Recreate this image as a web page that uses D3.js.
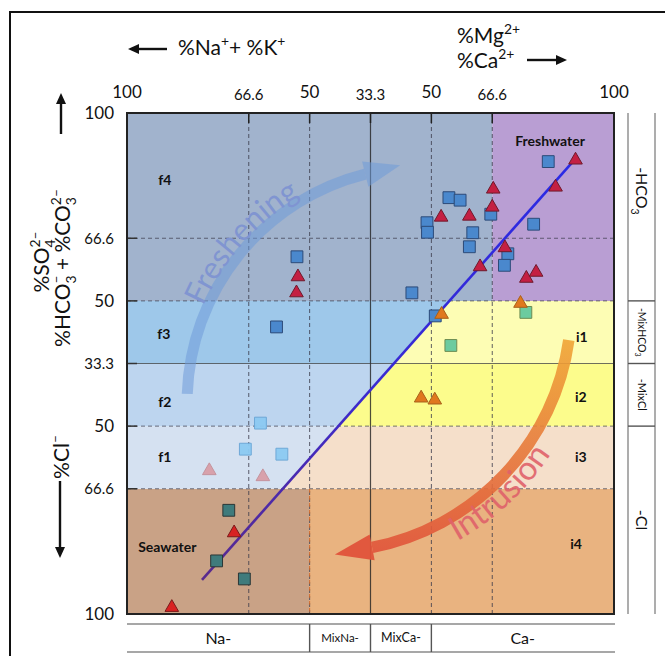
<!DOCTYPE html>
<html>
<head>
<meta charset="utf-8">
<script src="https://cdn.jsdelivr.net/npm/d3@7"></script>
<style>
  body { margin: 0; background: #fff; }
  svg { display: block; }
  text { font-family: Lato, "Open Sans", sans-serif; fill: #111; }
</style>
</head>
<body>
<svg width="665" height="656"></svg>
<script>
// positions on the diagram run 0..100 along each side; labels are what is printed
const xTickPos = [0, 25, 37.5, 50, 62.5, 75, 100];
const xTickLabels = ['100', '66.6', '50', '33.3', '50', '66.6', '100'];
const yTickPos = [0, 25, 37.5, 50, 62.5, 75, 100];
const yTickLabels = ['100', '66.6', '50', '33.3', '50', '66.6', '100'];

// facies strips
const cationFacies = ['Na-', 'MixNa-', 'MixCa-', 'Ca-'];
const cationBounds = [0, 37.5, 50, 62.5, 100];
const anionFacies = ['-Cl', '-MixCl', '-MixHCO3', '-HCO3'];
const anionBounds = [0, 37.5, 50, 62.5, 100];

// horizontal bands (bottom to top)
const bandEdges = [0, 25, 37.5, 50, 62.5, 100];

// seawater - freshwater mixing line
const mixLine = [[15.4, 6.8], [92.2, 91.0]];

// samples
const blueSquares = [
  [86.5, 90.3], [66.1, 83.1], [68.4, 82.6], [61.6, 78.1], [61.7, 76.2],
  [74.7, 79.8], [71.0, 76.1], [70.3, 73.3], [83.5, 77.8], [78.2, 71.9],
  [77.5, 69.6], [58.5, 64.1], [63.3, 59.5], [34.9, 71.3], [30.7, 57.3]
];
const paleSquares = [[27.4, 38.1], [24.3, 32.9], [31.8, 31.9]];
const greenSquares = [[81.9, 60.2], [66.5, 53.6]];
const tealSquares = [[20.9, 20.7], [18.4, 10.6], [24.1, 7.0]];
const redTriangles = [
  [92.1, 90.6], [88.0, 85.2], [75.2, 84.8], [75.0, 81.2], [64.5, 79.2],
  [70.3, 79.4], [77.6, 73.1], [72.5, 69.3], [82.0, 67.0], [84.0, 68.2],
  [35.1, 67.3], [34.8, 64.1]
];
const orangeTriangles = [[80.8, 62.0], [64.6, 59.8], [60.4, 43.1], [63.2, 42.7]];
const pinkTriangles = [[16.9, 28.6], [27.9, 27.4]];
const seaTriangles = [[22.0, 16.2], [9.2, 1.3]];

// zone names
const zoneNames = ['f4', 'f3', 'f2', 'f1', 'i1', 'i2', 'i3', 'i4'];
const zoneSpots = [[6.4, 86.6], [6.2, 55.9], [6.4, 42.3], [6.4, 31.3],
                   [92.2, 55.3], [92.0, 43.3], [92.0, 31.3], [91.0, 14.0]];

(function (d3) {
  'use strict';
  const svg = d3.select('svg');
  const x = d3.scaleLinear().domain([0, 100]).range([127, 614]);
  const y = d3.scaleLinear().domain([0, 100]).range([614, 113]);

  // frame
  svg.append('path').attr('d', 'M10,658 V12 H667')
     .attr('fill', 'none').attr('stroke', '#111').attr('stroke-width', 2);

  // coloured bands
  const [p0, p1] = mixLine;
  const lineX = v => p0[0] + (v - p0[1]) * (p1[0] - p0[0]) / (p1[1] - p0[1]);
  const bandLeft = ['#c9a286', '#d5e1f1', '#bdd5ef', '#9ec8ea', '#a1b3cd'];
  const bandRight = ['#e9b380', '#f5dfca', '#fcfc8c', '#fdfdb4', '#b99ed3'];
  const toPts = pts => pts.map(p => [x(p[0]), y(p[1])].join(',')).join(' ');
  const regions = svg.append('g');
  d3.pairs(bandEdges).forEach(([y0, y1], i) => {
    let a0, a1;
    if (i === 0) { a0 = a1 = 37.5; }
    else if (i === bandEdges.length - 2) { a0 = a1 = 75; }
    else { a0 = lineX(y0); a1 = lineX(y1); }
    regions.append('polygon').attr('points', toPts([[0, y0], [a0, y0], [a1, y1], [0, y1]]))
      .attr('fill', bandLeft[i]);
    regions.append('polygon').attr('points', toPts([[a0, y0], [100, y0], [100, y1], [a1, y1]]))
      .attr('fill', bandRight[i]);
  });

  // grid
  const grid = svg.append('g');
  xTickPos.slice(1, -1).forEach(v => {
    grid.append('line').attr('x1', x(v)).attr('x2', x(v)).attr('y1', y(100)).attr('y2', y(0))
      .attr('stroke', v === 50 ? '#222' : '#3a3a4a')
      .attr('stroke-width', v === 50 ? 1.2 : 1)
      .attr('stroke-dasharray', v === 50 ? null : '4,3')
      .attr('opacity', 0.8);
    grid.append('line').attr('x1', x(v)).attr('x2', x(v)).attr('y1', y(100)).attr('y2', y(100) + 10)
      .attr('stroke', '#222').attr('stroke-width', 1.5);
  });
  yTickPos.slice(1, -1).forEach(v => {
    grid.append('line').attr('x1', x(0)).attr('x2', x(100)).attr('y1', y(v)).attr('y2', y(v))
      .attr('stroke', v === 50 ? '#333' : '#3a3a4a')
      .attr('stroke-width', v === 50 ? 1.2 : 1)
      .attr('stroke-dasharray', v === 50 ? null : '4,3')
      .attr('opacity', 0.7);
    grid.append('line').attr('x1', x(0)).attr('x2', x(0) + 10).attr('y1', y(v)).attr('y2', y(v))
      .attr('stroke', '#333').attr('stroke-width', 1.5);
  });
  // brown/orange boundary in the seawater band
  grid.append('line').attr('x1', x(37.5)).attr('x2', x(37.5)).attr('y1', y(25)).attr('y2', y(0))
    .attr('stroke', '#d06a2a').attr('stroke-dasharray', '4,3');

  // arrows (freshening / intrusion)
  const defs = svg.append('defs');
  const arcPath = (cx, cy, r, a0, a1, sweep) => {
    const r0 = a0 * Math.PI / 180, r1 = a1 * Math.PI / 180;
    return `M${cx + r * Math.cos(r0)},${cy + r * Math.sin(r0)} A${r},${r} 0 0 ${sweep} ${cx + r * Math.cos(r1)},${cy + r * Math.sin(r1)}`;
  };
  const head = (cx, cy, r, a, dir, len, half) => {
    const t = a * Math.PI / 180;
    const bx = cx + r * Math.cos(t), by = cy + r * Math.sin(t);
    const tx = -Math.sin(t) * dir, ty = Math.cos(t) * dir;
    return [[bx + tx * len, by + ty * len], [bx - ty * half, by + tx * half], [bx + ty * half, by - tx * half]]
      .map(p => p.join(',')).join(' ');
  };

  const fc = [x(60.6), y(42.3)], fr = 235;
  svg.append('path').attr('d', arcPath(fc[0], fc[1], fr, 182, 256, 1))
    .attr('fill', 'none').attr('stroke', '#6f9bd8').attr('stroke-width', 11).attr('opacity', 0.55);
  svg.append('polygon').attr('points', head(fc[0], fc[1], fr, 256, 1, 36, 13))
    .attr('fill', '#6f9bd8').attr('opacity', 0.55);
  defs.append('path').attr('id', 'freshPath').attr('d', arcPath(fc[0], fc[1], 239, 178, 265, 1));
  svg.append('text').style('font-size', '31px').style('fill', '#7f94d2')
    .attr('opacity', 0.95)
    .append('textPath').attr('href', '#freshPath').attr('startOffset', '50%')
    .attr('text-anchor', 'middle').text('Freshening');

  const ic = [x(40.7), y(61.5)], ir = 246;
  const grad = defs.append('linearGradient').attr('id', 'intrGrad')
    .attr('gradientUnits', 'userSpaceOnUse')
    .attr('x1', 0).attr('y1', ic[1] + 30).attr('x2', 0).attr('y2', ic[1] + ir);
  grad.append('stop').attr('offset', 0).attr('stop-color', '#f0a635');
  grad.append('stop').attr('offset', 0.45).attr('stop-color', '#e8803a');
  grad.append('stop').attr('offset', 1).attr('stop-color', '#e0533a');
  svg.append('path').attr('d', arcPath(ic[0], ic[1], ir, 8, 79, 1))
    .attr('fill', 'none').attr('stroke', 'url(#intrGrad)').attr('stroke-width', 11.5).attr('opacity', 0.9);
  svg.append('polygon').attr('points', head(ic[0], ic[1], ir, 79, 1, 38, 13))
    .attr('fill', '#e0533a').attr('opacity', 0.95);
  defs.append('path').attr('id', 'intrPath').attr('d', arcPath(ic[0], ic[1], 270, 80, 14, 0));
  svg.append('text').style('font-size', '33px').style('fill', '#e0626a').attr('opacity', 0.9)
    .append('textPath').attr('href', '#intrPath').attr('startOffset', '50%')
    .attr('text-anchor', 'middle').text('Intrusion');

  // zone labels
  svg.append('g').selectAll('text').data(zoneNames).join('text')
    .attr('x', (d, i) => x(zoneSpots[i][0])).attr('y', (d, i) => y(zoneSpots[i][1]))
    .attr('dy', '0.35em').style('font-size', '14px').style('font-weight', 'bold').text(d => d);
  svg.append('text').attr('x', x(2.3)).attr('y', y(13.4)).attr('dy', '0.35em')
    .style('font-size', '14px').style('font-weight', 'bold').text('Seawater');
  svg.append('text').attr('x', x(79.7)).attr('y', y(94.4)).attr('dy', '0.35em')
    .style('font-size', '14px').style('font-weight', 'bold').text('Freshwater');

  // mixing line
  const lg = defs.append('linearGradient').attr('id', 'mixGrad').attr('gradientUnits', 'userSpaceOnUse')
    .attr('x1', x(p0[0])).attr('y1', y(p0[1])).attr('x2', x(p1[0])).attr('y2', y(p1[1]));
  lg.append('stop').attr('offset', 0).attr('stop-color', '#5a2a8c');
  lg.append('stop').attr('offset', 0.45).attr('stop-color', '#3a2ad0');
  lg.append('stop').attr('offset', 1).attr('stop-color', '#2a2ae6');
  svg.append('path').attr('d', d3.line().x(d => x(d[0])).y(d => y(d[1]))(mixLine))
    .attr('stroke', 'url(#mixGrad)').attr('stroke-width', 2.6).attr('fill', 'none');

  // samples
  const sq = d3.symbol(d3.symbolSquare, 140)();
  const tri = d3.symbol(d3.symbolTriangle, 80)();
  const marks = svg.append('g');
  const drawSet = (data, path, fill, stroke, op) => {
    marks.append('g').selectAll('path').data(data).join('path')
      .attr('d', path)
      .attr('transform', d => `translate(${x(d[0])},${y(d[1])})`)
      .attr('fill', fill).attr('stroke', stroke).attr('stroke-width', 1)
      .attr('opacity', op);
  };
  drawSet(blueSquares, sq, '#4a88cd', '#2c4a78', 1);
  drawSet(paleSquares, sq, '#8ccaf3', '#6aa6d6', 0.95);
  drawSet(greenSquares, sq, '#6ccb9f', '#6c8c52', 1);
  drawSet(tealSquares, sq, '#3f7b7c', '#2a3636', 1);
  drawSet(redTriangles, tri, '#c41f42', '#6e1a2c', 1);
  drawSet(orangeTriangles, tri, '#e0781e', '#a8601a', 1);
  drawSet(pinkTriangles, tri, '#d99ea8', '#c4909a', 0.95);
  drawSet(seaTriangles, tri, '#d92222', '#7a1a1a', 1);

  // plot border
  svg.append('rect').attr('x', x(0)).attr('y', y(100)).attr('width', x(100) - x(0)).attr('height', y(0) - y(100))
    .attr('fill', 'none').attr('stroke', '#222').attr('stroke-width', 2);

  // tick labels
  const big = l => l === '100' || l === '50';
  svg.append('g').selectAll('text').data(xTickPos).join('text')
    .attr('x', d => x(d)).attr('y', (d, i) => big(xTickLabels[i]) ? 98 : 100)
    .attr('text-anchor', 'middle')
    .style('font-size', (d, i) => big(xTickLabels[i]) ? '17px' : '15px')
    .text((d, i) => xTickLabels[i]);
  svg.append('g').selectAll('text').data(yTickPos).join('text')
    .attr('x', 114).attr('y', d => y(d)).attr('dy', '0.35em')
    .attr('text-anchor', 'end')
    .style('font-size', (d, i) => big(yTickLabels[i]) ? '17px' : '15px')
    .text((d, i) => yTickLabels[i]);

  // rich text helper (sub / superscripts)
  const rich = (sel, parts, size) => {
    let shift = 0, prev = null;
    parts.forEach(([t, k]) => {
      const target = k === 'sub' ? 0.3 * size : (k ? -0.42 * size : 0);
      const ts = sel.append('tspan').text(t).attr('dy', target - shift)
        .style('font-size', (k ? 0.66 * size : size) + 'px');
      if (k === 'over' && prev) ts.attr('dx', -prev.node().getComputedTextLength());
      shift = target; prev = ts;
    });
  };
  const arrow = (x1, y1, x2, y2) => {
    const a = Math.atan2(y2 - y1, x2 - x1), L = 11, w = 5;
    const bx = x2 - L * Math.cos(a), by = y2 - L * Math.sin(a);
    svg.append('line').attr('x1', x1).attr('y1', y1).attr('x2', bx).attr('y2', by)
      .attr('stroke', '#111').attr('stroke-width', 2.4);
    svg.append('polygon').attr('fill', '#111').attr('points',
      [[x2, y2], [bx - w * Math.sin(a), by + w * Math.cos(a)], [bx + w * Math.sin(a), by - w * Math.cos(a)]]
        .map(p => p.join(',')).join(' '));
  };

  // axis titles
  rich(svg.append('text').attr('x', 178).attr('y', 55),
    [['%Na', ''], ['+', 'sup'], ['+ %K', ''], ['+', 'sup']], 21);
  arrow(167, 49, 128, 49);
  rich(svg.append('text').attr('x', 457).attr('y', 43), [['%Mg', ''], ['2+', 'sup']], 21);
  rich(svg.append('text').attr('x', 457).attr('y', 68), [['%Ca', ''], ['2+', 'sup']], 21);
  arrow(527, 60, 567, 60);

  rich(svg.append('text').attr('transform', 'translate(49,262) rotate(-90)').attr('text-anchor', 'middle'),
    [['%SO', ''], ['4', 'sub'], ['2–', 'over']], 21);
  rich(svg.append('text').attr('transform', 'translate(70,268) rotate(-90)').attr('text-anchor', 'middle'),
    [['%HCO', ''], ['3', 'sub'], ['–', 'over'], [' + %CO', ''], ['3', 'sub'], ['2–', 'over']], 21);
  arrow(61, 134, 61, 93);
  rich(svg.append('text').attr('transform', 'translate(69,457) rotate(-90)').attr('text-anchor', 'middle'),
    [['%Cl', ''], ['–', 'sup']], 21);
  arrow(60, 481, 60, 558);

  // facies strips
  const strip = svg.append('g').attr('stroke', '#8a8a8a').attr('stroke-width', 1.4);
  strip.append('line').attr('x1', x(0)).attr('x2', x(100) + 1).attr('y1', 624).attr('y2', 624);
  strip.append('line').attr('x1', x(0)).attr('x2', x(100) + 1).attr('y1', 652).attr('y2', 652);
  cationBounds.slice(1, -1).forEach(v => strip.append('line')
    .attr('x1', x(v)).attr('x2', x(v)).attr('y1', 624).attr('y2', 652).attr('stroke', '#555'));
  strip.append('line').attr('x1', 628).attr('x2', 628).attr('y1', y(100)).attr('y2', y(0));
  strip.append('line').attr('x1', 655).attr('x2', 655).attr('y1', y(100)).attr('y2', y(0));
  anionBounds.slice(1, -1).forEach(v => strip.append('line')
    .attr('x1', 628).attr('x2', 655).attr('y1', y(v)).attr('y2', y(v)).attr('stroke', '#555'));

  const cSize = [16, 11.5, 12.5, 16];
  cationFacies.forEach((c, i) => {
    svg.append('text').attr('x', (x(cationBounds[i]) + x(cationBounds[i + 1])) / 2).attr('y', 638)
      .attr('dy', '0.35em').attr('text-anchor', 'middle').style('font-size', cSize[i] + 'px').text(c);
  });
  const aSize = [16, 11, 10.5, 16];
  anionFacies.forEach((a, i) => {
    const cy = (y(anionBounds[i]) + y(anionBounds[i + 1])) / 2 + (i === 3 ? -16 : 0);
    const s = aSize[i];
    const t = svg.append('text').attr('transform', `translate(641.5,${cy}) rotate(90)`)
      .attr('text-anchor', 'middle').attr('y', 0.36 * s);
    const m = a.match(/^(.*?)(3)?$/);
    if (m[2]) rich(t, [[m[1], ''], ['3', 'sub']], s);
    else rich(t, [[a, '']], s);
  });
}(d3));
</script>
</body>
</html>
